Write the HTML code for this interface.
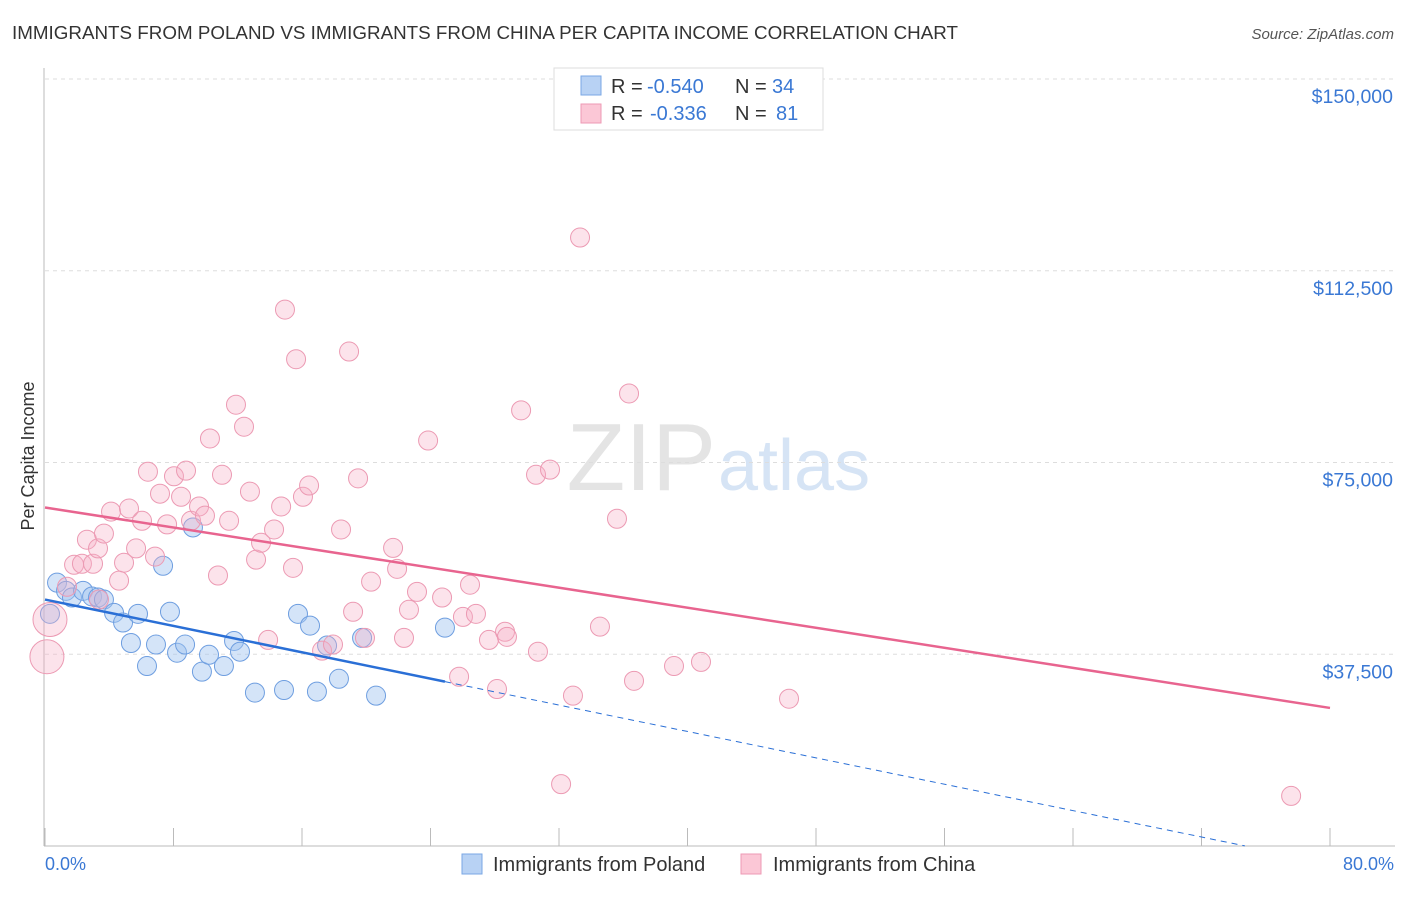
<!DOCTYPE html>
<html><head><meta charset="utf-8"><style>
body{margin:0;background:#fff;font-family:"Liberation Sans",sans-serif;}
svg text{font-family:"Liberation Sans",sans-serif;}
</style></head><body>
<svg id="c" width="1406" height="892" xmlns="http://www.w3.org/2000/svg">
<text x="12" y="39" font-size="18" fill="#333" textLength="946" lengthAdjust="spacingAndGlyphs">IMMIGRANTS FROM POLAND VS IMMIGRANTS FROM CHINA PER CAPITA INCOME CORRELATION CHART</text>
<text x="1394" y="39" font-size="15" fill="#555" text-anchor="end" font-style="italic">Source: ZipAtlas.com</text>
<text x="716" y="490" font-size="96" fill="#e4e4e4" text-anchor="end" font-family="Liberation Serif">ZIP</text>
<text x="718" y="490" font-size="72" fill="#d6e4f5">atlas</text>
<g id="grid"></g><g id="axes"></g><g id="pts"></g><g id="lines"></g>
<text x="34" y="456" font-size="18" fill="#333" text-anchor="middle" transform="rotate(-90 34 456)">Per Capita Income</text>
<text x="45" y="870" font-size="18" fill="#3a78d4">0.0%</text>
<text x="1394" y="870" font-size="18" fill="#3a78d4" text-anchor="end">80.0%</text>
<g>
<rect x="554" y="68" width="269" height="62" fill="#fff" stroke="#ddd"/>
<rect x="581" y="76" width="20" height="19" fill="#b8d2f4" stroke="#7aa7e4"/>
<rect x="581" y="104" width="20" height="19" fill="#fbc7d6" stroke="#ee9ab4"/>
<text x="611" y="93" font-size="20" fill="#333">R =</text>
<text x="647" y="93" font-size="20" fill="#3a78d4">-0.540</text>
<text x="735" y="93" font-size="20" fill="#333">N =</text>
<text x="772" y="93" font-size="20" fill="#3a78d4">34</text>
<text x="611" y="120" font-size="20" fill="#333">R =</text>
<text x="650" y="120" font-size="20" fill="#3a78d4">-0.336</text>
<text x="735" y="120" font-size="20" fill="#333">N =</text>
<text x="776" y="120" font-size="20" fill="#3a78d4">81</text>
</g>
<g>
<rect x="462" y="854" width="20" height="20" fill="#b8d2f4" stroke="#7aa7e4"/>
<text x="493" y="871" font-size="20" fill="#333">Immigrants from Poland</text>
<rect x="741" y="854" width="20" height="20" fill="#fbc7d6" stroke="#ee9ab4"/>
<text x="773" y="871" font-size="20" fill="#333">Immigrants from China</text>
</g>
</svg>
<script>
const yTicks=[37500,75000,112500,150000];
const yTickLabels=["$37,500","$75,000","$112,500","$150,000"];
const xTicks=[0,8,16,24,32,40,48,56,64,72,80];
const polandX=[0.75,1.31,1.68,2.37,2.93,3.30,3.67,4.30,4.86,5.35,5.79,6.35,6.91,7.35,7.78,8.22,8.72,9.21,9.77,10.21,11.14,11.77,12.14,13.07,14.88,15.75,16.50,16.93,17.56,18.30,19.74,20.61,24.90,0.31];
const polandY=[51.5,49.9,48.6,49.9,48.8,48.6,48.2,45.6,43.7,39.7,45.4,35.2,39.4,54.8,45.8,37.8,39.4,62.3,34.1,37.4,35.2,40.1,38.0,30.0,30.5,45.4,43.1,30.2,39.2,32.7,40.7,29.4,42.7,45.4];
const chinaX=[0.31,0.12,1.37,1.81,2.30,2.61,2.99,3.30,3.67,4.11,4.61,4.92,5.23,5.67,6.04,6.41,6.85,7.16,7.60,8.03,8.47,8.78,9.09,9.59,9.96,10.27,10.77,11.02,11.46,11.89,12.39,12.76,13.14,13.45,13.89,14.26,14.70,14.94,15.44,15.63,16.06,16.44,17.25,17.93,18.43,18.93,19.18,19.49,19.92,20.30,21.67,21.92,22.35,22.66,23.16,23.85,24.72,25.78,26.02,26.46,26.83,27.64,28.14,28.64,28.76,29.64,30.69,30.57,31.44,32.87,33.31,34.55,35.61,36.36,36.67,39.16,40.84,46.32,32.13,77.58,3.36];
const chinaY=[44.3,37.0,50.7,55.0,55.2,59.9,55.2,58.2,61.1,65.4,51.9,55.4,66.0,58.2,63.6,73.2,56.6,68.9,62.9,72.3,68.3,73.4,63.6,66.4,64.6,79.7,52.9,72.6,63.6,86.3,82.0,69.3,56.0,59.3,40.3,61.9,66.4,104.9,54.4,95.2,68.3,70.5,38.2,39.4,61.9,96.7,45.8,71.9,40.7,51.7,58.3,54.2,40.7,46.2,49.7,79.3,48.6,33.1,44.8,51.1,45.4,40.3,30.7,41.9,40.9,85.2,38.0,72.6,73.6,29.4,119.0,42.9,64.0,88.5,32.3,35.2,36.0,28.8,12.1,9.8,48.2];
const chinaBig=[0,1];
const polandTrend=[48.2,-0.645,24.9,74.7];
const chinaTrend=[66.2,-0.49,80];
const NS="http://www.w3.org/2000/svg";
const X=v=>45+v/80*1285;
const Y=v=>846-v/150*767;
function mk(t,a,p){const e=document.createElementNS(NS,t);for(const k in a)e.setAttribute(k,a[k]);document.getElementById(p).appendChild(e);return e;}
yTicks.forEach((t,i)=>{
 const g=mk('line',{x1:45,x2:1395,y1:Y(t/1000),y2:Y(t/1000),stroke:'#ddd','stroke-dasharray':'4,4'},'grid');
 
 
 const l=mk('text',{x:1393,y:Y(t/1000)+24,'font-size':19.5,fill:'#3a78d4','text-anchor':'end'},'grid');
 l.textContent=yTickLabels[i];
 
 
});
const ya=mk('line',{x1:44,x2:44,y1:68,y2:846,stroke:'#bbb'},'axes');


const xa=mk('line',{x1:44,x2:1395,y1:846,y2:846,stroke:'#bbb'},'axes');


xTicks.forEach(t=>{
 const k=mk('line',{x1:X(t),x2:X(t),y1:828,y2:846,stroke:'#bbb'},'axes');
 
 
});
polandX.forEach((x,i)=>{
 const c=mk('circle',{cx:X(x),cy:Y(polandY[i]),r:9.5,fill:'rgba(160,195,240,0.45)',stroke:'#6e9ee0','stroke-width':1},'pts');
 
 
});
chinaX.forEach((x,i)=>{
 const big=chinaBig.includes(i);
 const c=mk('circle',{cx:X(x),cy:Y(chinaY[i]),r:big?17:9.5,fill:'rgba(245,175,198,0.35)',stroke:'#ec9ab3','stroke-width':1},'pts');
 
 
});
const pt=x=>Y(polandTrend[0]+polandTrend[1]*x);
const l1=mk('line',{x1:X(0),y1:pt(0),x2:X(polandTrend[2]),y2:pt(polandTrend[2]),stroke:'#2a6fd6','stroke-width':2.5},'lines');


const l2=mk('line',{x1:X(polandTrend[2]),y1:pt(polandTrend[2]),x2:X(polandTrend[3]),y2:pt(polandTrend[3]),stroke:'#2a6fd6','stroke-width':1,'stroke-dasharray':'6,5'},'lines');


const ct=x=>Y(chinaTrend[0]+chinaTrend[1]*x);
const l3=mk('line',{x1:X(0),y1:ct(0),x2:X(chinaTrend[2]),y2:ct(chinaTrend[2]),stroke:'#e8648f','stroke-width':2.5},'lines');


</script>
</body></html>
